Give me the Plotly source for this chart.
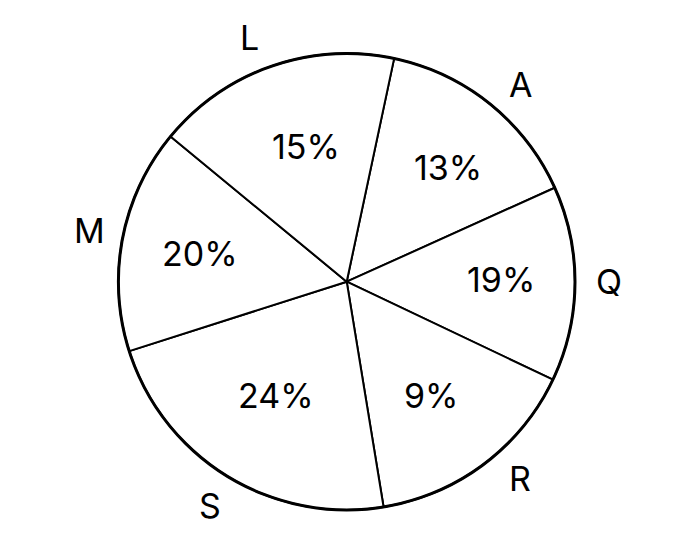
import numpy as np
import plotly.graph_objects as go

# Slices in clockwise order, starting at the L/A boundary
labels = ["A", "Q", "R", "S", "M", "L"]
slice_degrees = [53.7, 49.7, 55.3, 81.6, 57.2, 62.5]   # drawn angular size of each slice
pct_text = ["13%", "19%", "9%", "24%", "20%", "15%"]     # printed percentages
start_deg = 12.0

# layout / styling (not data)
W, H = 686, 547
PAGE_OFFSET = 8  # browser body margin
cx, cy, R = 346.7 - PAGE_OFFSET, 281.7 - PAGE_OFFSET, 228.3
label_dist = 262.5
label_nudge_deg = {"A": 2.6, "Q": -0.5, "R": -4.5, "S": 0.0, "M": 0.3, "L": -2.4}
pct_dist = {"A": 152.5, "Q": 154.0, "R": 141.7, "S": 134.1, "M": 149.4, "L": 141.7}
pct_nudge_deg = {"A": 2.75, "Q": -1.45, "R": 0.35, "S": 0.4, "M": 0.1, "L": 2.45}
FONT = "Inter"
FONT_SIZE = 34

dom_x = [(cx - R) / W, (cx + R) / W]
dom_y = [1 - (cy + R) / H, 1 - (cy - R) / H]

fig = go.Figure()
fig.add_trace(go.Pie(
    values=slice_degrees, labels=labels,
    textinfo="none", sort=False, direction="clockwise", rotation=start_deg,
    marker=dict(colors=["white"] * len(labels), line=dict(color="black", width=2)),
    domain=dict(x=dom_x, y=dom_y), showlegend=False, hoverinfo="skip",
))
# thicker outer rim
fig.add_trace(go.Pie(
    values=[1], labels=["rim"], textinfo="none", sort=False,
    marker=dict(colors=["rgba(0,0,0,0)"], line=dict(color="black", width=3)),
    domain=dict(x=dom_x, y=dom_y), showlegend=False, hoverinfo="skip",
))

vals = np.array(slice_degrees)
mids = start_deg + np.cumsum(vals) - vals / 2


def polar_note(text, angle_deg, dist):
    t = np.deg2rad(angle_deg)
    xp = cx + dist * np.sin(t)
    yp = cy - dist * np.cos(t)
    return dict(
        x=xp / W, y=1 - yp / H, xref="paper", yref="paper",
        text=text, showarrow=False, xanchor="center", yanchor="middle",
        font=dict(family=FONT, size=FONT_SIZE, color="black"),
    )


annotations = []
for lab, pct, a in zip(labels, pct_text, mids):
    annotations.append(polar_note(lab, a + label_nudge_deg[lab], label_dist))
    annotations.append(polar_note(pct, a + pct_nudge_deg[lab], pct_dist[lab]))

fig.update_layout(
    width=W, height=H, margin=dict(l=0, r=0, t=0, b=0),
    paper_bgcolor="white", plot_bgcolor="white",
    annotations=annotations,
)
fig.write_html("out.html")
